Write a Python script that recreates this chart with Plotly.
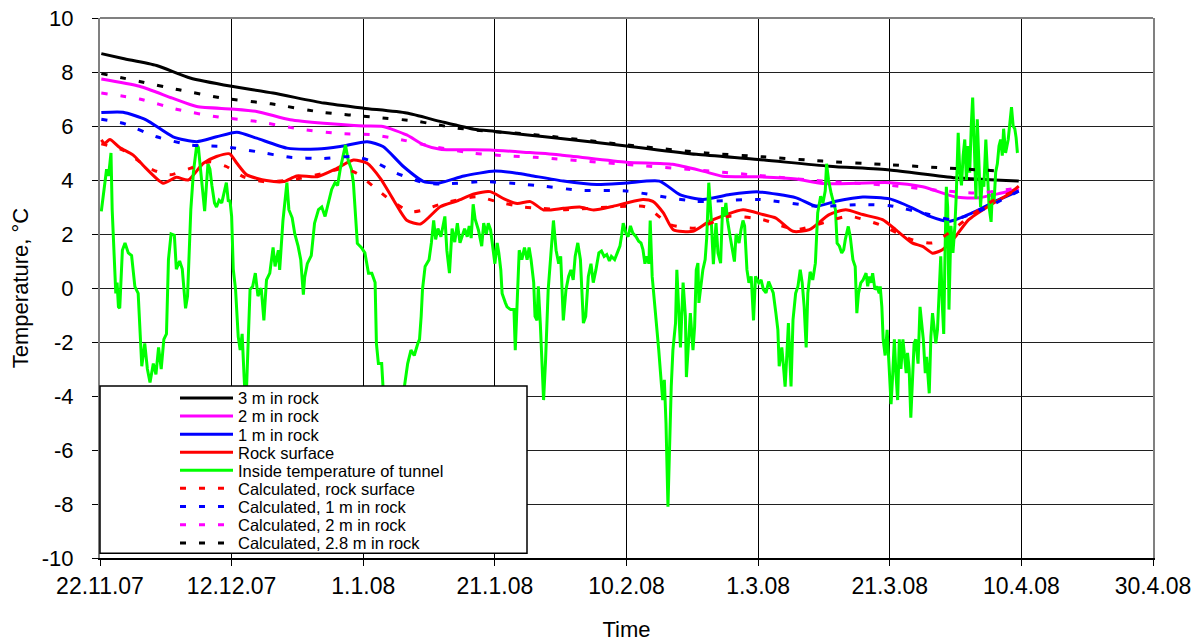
import numpy as np
import pandas as pd
import plotly.graph_objects as go

START = pd.Timestamp("2007-11-22")

# ---- data (days since 22.11.07, temperature in deg C) ----
rock3_days = [0.2, 3.5, 8.6, 13.7, 20, 26.3, 34, 40, 46.6, 51.7, 56.8, 60, 65, 70, 80, 90.6, 100, 110.8, 120, 130, 139.6]
rock3_temp = [8.68, 8.5, 8.24, 7.78, 7.47, 7.22, 6.85, 6.66, 6.48, 6.17, 5.88, 5.8, 5.67, 5.54, 5.26, 4.95, 4.76, 4.51, 4.37, 4.08, 3.96]

rock2_days = [0.2, 6, 11, 14.7, 20, 23.8, 28.9, 34, 40, 43, 46.6, 49.2, 51.7, 59.3, 65, 70, 80, 87, 91.6, 94.6, 100, 105.8, 109.8, 120, 125, 130, 133.5, 137, 139.6]
rock2_temp = [7.74, 7.47, 7.03, 6.72, 6.63, 6.54, 6.23, 6.1, 6.0, 5.98, 5.67, 5.3, 5.14, 5.11, 5.02, 4.93, 4.66, 4.58, 4.33, 4.14, 4.12, 4.04, 3.87, 3.9, 3.75, 3.37, 3.34, 3.52, 3.67]

rock1_days = [0.2, 3.5, 7, 11.1, 14.7, 17.7, 20.8, 23.8, 28.4, 33, 36.5, 40.6, 43, 46.1, 49.2, 51.7, 55.3, 60, 63.4, 65.4, 70.4, 75.5, 80, 85, 88.1, 91.6, 95.7, 100, 105.8, 108.8, 111.8, 115.9, 120, 123.4, 126, 129, 132.5, 136, 139.6]
rock1_temp = [6.5, 6.51, 6.23, 5.6, 5.42, 5.6, 5.77, 5.55, 5.18, 5.15, 5.24, 5.42, 5.24, 4.5, 3.94, 3.9, 4.15, 4.33, 4.25, 4.17, 3.96, 3.83, 3.89, 3.96, 3.46, 3.28, 3.46, 3.56, 3.34, 3.03, 3.21, 3.37, 3.3, 2.97, 2.66, 2.47, 2.78, 3.21, 3.59]

surf_days = [0.2, 0.7, 1.5, 3, 5, 7, 9.6, 11.6, 13.4, 15.7, 17.7, 19.7, 20.8, 22.3, 25.3, 27.9, 29.9, 33, 36, 38.5, 40.6, 42.6, 44.6, 46.6, 48.7, 51.7, 54.3, 56.8, 59.3, 61.4, 63.4, 65.4, 67.4, 70.4, 72.9, 75, 78, 80, 82.5, 84, 85.6, 87.1, 90.1, 92.6, 97.7, 100.7, 102.7, 105.3, 107.8, 110.8, 113.3, 115.9, 118.9, 120.9, 123.4, 125, 126.5, 128, 130, 132, 135, 138, 139.6]
surf_temp = [5.49, 5.36, 5.5, 5.2, 4.93, 4.43, 3.88, 4.1, 4.0, 4.62, 4.87, 4.97, 4.62, 4.19, 3.98, 3.94, 4.15, 4.12, 4.43, 4.74, 4.62, 4.06, 3.26, 2.51, 2.37, 3.01, 3.23, 3.48, 3.57, 3.3, 3.13, 3.2, 2.89, 2.95, 3.0, 2.89, 3.03, 3.15, 3.28, 3.21, 2.78, 2.16, 2.1, 2.47, 2.9, 2.72, 2.59, 2.1, 2.16, 2.72, 2.9, 2.72, 2.53, 2.16, 1.67, 1.54, 1.29, 1.42, 1.91, 2.53, 3.03, 3.46, 3.77]

tunnel_days = [0.2, 1.0, 1.3, 1.67, 1.85, 2.4, 2.6, 2.8, 3.0, 3.4, 3.8, 4.3, 4.8, 5.3, 5.8, 6.0, 6.2, 6.35, 6.8, 7.2, 7.6, 8.1, 8.5, 8.9, 9.3, 9.7, 10.1, 10.4, 10.8, 11.3, 11.6, 12.1, 12.5, 13.0, 13.3, 13.8, 14.2, 14.7, 14.95, 15.4, 15.9, 16.4, 16.7, 17.0, 17.4, 17.7, 18.1, 18.5, 18.9, 19.2, 19.5, 19.75, 20.0, 20.25, 20.6, 21.0, 21.3, 21.6, 21.9, 22.15, 22.8, 23.2, 23.6, 24.0, 24.5, 24.9, 25.3, 25.8, 26.3, 26.6, 27.1, 27.3, 27.8, 28.4, 28.7, 29.2, 29.6, 30.1, 30.5, 30.9, 31.1, 31.5, 32.1, 32.6, 33.2, 33.7, 34.2, 34.7, 35.2, 35.7, 36.1, 36.5, 37.0, 37.3, 37.7, 38.2, 38.5, 38.8, 39.1, 39.7, 40.25, 40.8, 41.3, 41.8, 42.0, 42.3, 42.8, 43.0, 43.5, 44.5, 45.5, 46.25, 46.75, 47.25, 47.75, 48.3, 48.55, 48.8, 49.0, 49.4, 50.0, 50.35, 50.7, 51.0, 51.35, 51.8, 52.1, 52.4, 52.7, 53.1, 53.5, 53.9, 54.3, 54.7, 55.0, 55.4, 55.8, 56.1, 56.4, 56.7, 57.0, 57.5, 58.0, 58.3, 58.7, 59.0, 59.35, 59.75, 60.0, 60.35, 60.6, 60.9, 61.1, 61.6, 61.85, 62.4, 62.9, 63.1, 63.4, 63.7, 64.1, 64.5, 64.9, 65.2, 65.5, 65.9, 66.1, 66.4, 66.6, 66.9, 67.4, 67.7, 68.1, 68.5, 68.9, 69.3, 69.7, 70.0, 70.4, 70.8, 71.2, 71.55, 71.9, 72.2, 72.6, 73.0, 73.45, 73.8, 74.2, 74.6, 74.95, 75.35, 75.8, 76.2, 76.6, 77.0, 77.4, 77.7, 78.2, 78.6, 79.0, 79.25, 79.5, 79.9, 80.25, 80.6, 80.95, 81.45, 81.85, 82.2, 82.5, 82.8, 83.1, 83.4, 83.6, 83.9, 84.3, 84.5, 84.9, 85.25, 85.5, 85.75, 86.0, 86.3, 86.55, 86.8, 87.05, 87.45, 87.65, 87.9, 88.2, 88.6, 88.95, 89.1, 89.4, 89.7, 90.1, 90.35, 90.6, 90.85, 91.0, 91.6, 91.95, 92.2, 92.5, 92.85, 93.2, 93.6, 93.9, 94.3, 94.6, 94.85, 95.1, 95.35, 95.75, 96.05, 96.4, 96.65, 97.1, 97.4, 97.7, 97.95, 98.3, 98.6, 98.95, 99.3, 99.6, 100.1, 100.45, 100.8, 101.2, 101.6, 101.95, 102.3, 102.7, 103.0, 103.2, 103.6, 103.85, 104.1, 104.35, 104.6, 105.0, 105.3, 105.7, 106.05, 106.4, 106.7, 107.0, 107.3, 107.55, 107.9, 108.3, 108.7, 109.05, 109.5, 109.85, 110.2, 110.4, 110.7, 111.1, 111.45, 111.75, 112.0, 112.35, 112.7, 113.0, 113.25, 113.7, 114.0, 114.4, 114.75, 115.0, 115.25, 115.6, 115.95, 116.4, 116.65, 116.9, 117.15, 117.4, 117.75, 118.05, 118.4, 118.55, 118.8, 119.0, 119.3, 119.6, 119.9, 120.2, 120.45, 120.7, 120.95, 121.2, 121.45, 121.7, 122.0, 122.25, 122.5, 122.7, 122.95, 123.2, 123.45, 123.7, 123.95, 124.3, 124.6, 124.85, 125.1, 125.4, 125.6, 126.0, 126.25, 126.5, 126.75, 127.0, 127.25, 127.5, 127.75, 128.0, 128.2, 128.4, 128.6, 128.8, 129.0, 129.3, 129.6, 129.9, 130.1, 130.4, 130.65, 130.9, 131.15, 131.4, 131.65, 131.9, 132.15, 132.4, 132.6, 132.85, 133.1, 133.3, 133.55, 133.8, 134.05, 134.3, 134.6, 134.85, 135.1, 135.4, 135.6, 135.85, 136.1, 136.35, 136.6, 136.85, 137.1, 137.3, 137.6, 138.0, 138.3, 138.5, 138.75, 139.0, 139.2, 139.4]
tunnel_temp = [2.84, 4.4, 4.15, 5.0, 2.9, -0.2, 0.2, -0.7, -0.75, 1.4, 1.67, 1.3, 1.2, 0.05, -0.2, -1.43, -2.05, -2.9, -2.05, -3.0, -3.5, -2.8, -3.2, -2.2, -3.0, -1.9, -1.7, 1.05, 2.0, 1.95, 0.7, 1.0, 0.7, -0.75, -0.3, 2.9, 4.3, 5.3, 5.2, 4.1, 2.85, 4.6, 4.4, 3.8, 3.15, 3.0, 3.25, 3.15, 3.65, 3.9, 3.2, 3.25, 2.65, 0.7, -0.06, -1.8, -2.3, -1.7, -3.3, -4.5, -0.06, 0.06, 0.55, -0.3, 0.0, -1.2, 0.3, 0.55, 1.5, 0.8, 1.4, 0.67, 2.5, 3.9, 2.9, 2.6, 2.0, 1.55, 1.05, -0.25, 0.4, 0.9, 1.2, 2.4, 2.9, 3.0, 2.65, 3.2, 3.65, 3.9, 3.8, 4.4, 4.9, 5.3, 4.75, 4.4, 3.9, 2.65, 1.65, 1.5, 1.3, 0.55, 0.55, 0.2, -2.05, -2.8, -2.8, -3.65, -4.6, -5.0, -4.7, -3.66, -2.8, -2.3, -2.5, -2.05, -1.9, -1.05, -0.06, 0.8, 1.05, 1.67, 2.5, 1.8, 2.2, 1.9, 2.35, 2.65, 1.4, 0.55, 2.2, 1.7, 2.4, 1.67, 1.9, 2.2, 1.9, 2.3, 1.85, 3.1, 2.55, 2.15, 1.55, 2.4, 2.0, 2.4, 2.15, 1.4, 0.9, 1.67, 1.3, 0.67, -0.2, -0.55, -0.7, -0.8, -0.8, -2.3, -0.3, 1.4, 1.05, 1.5, 1.05, 1.5, 1.05, 0.2, -1.05, -1.2, 0.06, -1.3, -4.15, -2.7, -0.07, 1.4, 2.5, 1.4, 0.9, 1.17, -1.2, -0.07, 0.43, 0.67, 0.3, 1.17, 1.67, 1.05, -1.3, -1.05, 0.43, 0.9, 0.2, 0.67, 1.3, 1.37, 1.17, 1.24, 1.0, 1.17, 1.05, 1.3, 1.55, 1.93, 2.4, 2.04, 1.9, 2.3, 2.04, 1.9, 1.73, 1.67, 1.42, 0.9, 1.17, 0.9, 2.5, 0.43, -0.55, -1.05, -2.3, -3.4, -4.15, -3.4, -5.0, -8.1, -5.3, -3.65, -2.3, -1.3, 0.67, -0.8, -2.2, 0.2, -1.05, -3.3, -2.05, -0.93, -2.3, -1.43, 0.67, 0.92, -0.55, 0.67, 1.05, 1.9, 3.9, 2.65, 0.88, 2.4, 1.3, 0.92, 3.0, 2.65, 3.15, 2.5, 1.9, 1.4, 0.98, 2.0, 1.67, 2.16, 2.5, 2.3, 0.68, 0.19, 0.43, -1.2, 0.43, 0.19, 0.3, -0.06, -0.18, 0.24, 0.06, -0.18, -0.93, -1.55, -2.9, -2.2, -2.9, -3.65, -2.55, -1.3, -3.65, -1.18, -0.2, 0.06, 0.68, 0.19, -0.7, -2.2, -0.2, 0.6, 0.3, 0.92, 2.78, 3.4, 3.15, 3.6, 4.6, 4.0, 3.5, 3.15, 2.9, 1.66, 1.55, 1.3, 1.42, 1.8, 2.28, 1.9, 1.05, 0.8, -0.93, -0.2, 0.19, 0.3, 0.55, 0.06, 0.43, 0.19, 0.55, -0.06, 0.06, -0.2, 0.06, -0.7, -1.9, -2.5, -1.55, -2.9, -4.3, -3.2, -1.9, -3.2, -4.15, -1.9, -3.0, -1.9, -2.55, -3.15, -2.4, -3.0, -4.8, -3.4, -2.05, -1.9, -2.8, -0.7, -1.3, -1.9, -3.15, -2.55, -3.9, -1.8, -0.93, -1.55, -2.05, -1.55, -0.2, 1.17, -0.7, -1.7, 1.3, 3.75, 3.0, -0.8, 2.3, 1.3, 2.3, 3.4, 5.75, 4.27, 3.8, 4.9, 5.5, 4.0, 5.26, 4.27, 6.1, 7.05, 5.26, 3.3, 6.25, 4.27, 3.0, 4.0, 3.75, 5.5, 4.0, 3.0, 2.45, 3.6, 3.2, 4.3, 4.6, 5.26, 5.5, 4.9, 5.9, 5.0, 5.5, 6.1, 6.7, 6.0, 5.9, 5.57, 5.0]

calc_surf_days = [0.2, 3.5, 6, 8.1, 10.6, 13.7, 16.7, 19.2, 21.8, 24.8, 28.9, 34, 37, 39, 41.6, 44.1, 47.2, 49.2, 52, 57.3, 60.3, 64, 67, 70.4, 80, 83, 86.6, 90.6, 95.7, 100.7, 105.8, 109.8, 113.8, 118.4, 123.4, 126.5, 129, 132.5, 136, 139.6]
calc_surf_temp = [5.34, 5.11, 4.68, 4.37, 4.19, 4.43, 4.68, 4.5, 4.12, 3.94, 4.0, 4.25, 4.43, 4.25, 3.75, 3.26, 2.82, 2.89, 3.13, 3.38, 3.2, 3.01, 2.95, 2.9, 3.03, 3.0, 2.35, 2.22, 2.66, 2.53, 2.16, 2.41, 2.66, 2.35, 1.79, 1.67, 2.04, 2.72, 3.28, 3.65]

calc1_days = [0.2, 3.5, 8.6, 13.7, 18.7, 23.8, 28.9, 34, 38.5, 41.6, 45.1, 49.2, 52, 58.3, 64, 67, 72.9, 80, 90.6, 100, 108.8, 115.9, 120, 126, 129.5, 133.5, 139.6]
calc1_temp = [6.25, 6.1, 5.6, 5.3, 5.24, 5.05, 4.84, 4.8, 4.87, 4.68, 4.25, 3.9, 3.85, 3.94, 3.85, 3.78, 3.62, 3.59, 3.21, 3.28, 3.03, 3.09, 3.05, 2.72, 2.53, 2.84, 3.59]

calc2_days = [0.2, 6, 12, 18, 23.8, 30, 36, 41.6, 44.6, 50.7, 56.8, 62, 66, 80, 94.6, 100, 109.8, 120, 128.5, 133.5, 139.6]
calc2_temp = [7.22, 7.0, 6.6, 6.33, 6.17, 5.9, 5.73, 5.67, 5.55, 5.24, 4.99, 4.89, 4.84, 4.58, 4.29, 4.17, 3.96, 3.8, 3.59, 3.52, 3.71]

calc28_days = [0.2, 6, 12, 18.7, 26, 34, 41.6, 47.7, 50.7, 54.3, 59.4, 66, 80, 92, 100.7, 109.8, 118.9, 128, 137]
calc28_temp = [7.94, 7.65, 7.34, 7.03, 6.82, 6.5, 6.33, 6.19, 6.07, 5.92, 5.8, 5.68, 5.3, 5.0, 4.86, 4.7, 4.58, 4.45, 4.33]

x_tick_dates = ["2007-11-22", "2007-12-12", "2008-01-01", "2008-01-21", "2008-02-10",
                "2008-03-01", "2008-03-21", "2008-04-10", "2008-04-30"]
x_tick_labels = ["22.11.07", "12.12.07", "1.1.08", "21.1.08", "10.2.08",
                 "1.3.08", "21.3.08", "10.4.08", "30.4.08"]
y_ticks = [-10, -8, -6, -4, -2, 0, 2, 4, 6, 8, 10]
y_tick_labels = ["-10", "-8", "-6", "-4", "-2", "0", "2", "4", "6", "8", "10"]


def to_dates(days):
    return START + pd.to_timedelta(np.asarray(days, dtype=float), unit="D")


DASH = "6px,13px"
series = [
    ("3 m in rock", rock3_days, rock3_temp, "#000000", "solid"),
    ("2 m in rock", rock2_days, rock2_temp, "#FF00FF", "solid"),
    ("1 m in rock", rock1_days, rock1_temp, "#0000FF", "solid"),
    ("Rock surface", surf_days, surf_temp, "#FF0000", "solid"),
    ("Inside temperature of tunnel", tunnel_days, tunnel_temp, "#00FF00", "solid"),
    ("Calculated, rock surface", calc_surf_days, calc_surf_temp, "#FF0000", DASH),
    ("Calculated, 1 m in rock", calc1_days, calc1_temp, "#0000FF", DASH),
    ("Calculated, 2 m in rock", calc2_days, calc2_temp, "#FF00FF", DASH),
    ("Calculated, 2.8 m in rock", calc28_days, calc28_temp, "#000000", DASH),
]

FONT = "Liberation Sans, Arial, sans-serif"

# Geometry in page pixels (body margin removed below, so page == figure pixels).
W, H = 1202, 642
PL, PR, PT, PB = 100, 1153, 18, 558
row_y = [398.3, 416.3, 434.5, 452.5, 470.5, 488.6, 506.8, 525.0, 543.2]
legend_left = 175
box_right, box_top, box_bottom = 527, 386, 553.3


def px_x(p):
    return (p - PL) / (PR - PL)


def px_y(p):
    return (PB - p) / (PB - PT)


fig = go.Figure()
layout_legends = {}
for i, (name, d, t, col, dash) in enumerate(series):
    lg = "legend" if i == 0 else f"legend{i + 1}"
    smooth = not name.startswith("Inside")
    fig.add_trace(go.Scatter(
        x=to_dates(d), y=t, mode="lines", name=name,
        line=dict(color=col, width=3, dash=dash,
                  shape="spline" if smooth else "linear", smoothing=0.6),
        legend=lg,
    ))
    layout_legends[lg] = dict(
        x=px_x(legend_left), xanchor="left",
        y=px_y(row_y[i]), yanchor="middle",
        bgcolor="rgba(0,0,0,0)", borderwidth=0,
        font=dict(family=FONT, size=16.5, color="#000000"),
        itemwidth=53, tracegroupgap=0,
    )

fig.update_layout(
    width=W, height=H,
    margin=dict(l=PL, r=W - PR, t=PT, b=H - PB, autoexpand=False),
    paper_bgcolor="white", plot_bgcolor="white",
    showlegend=True,
    font=dict(family=FONT, color="#000000"),
    **layout_legends,
)

fig.update_xaxes(
    type="date", automargin=False,
    range=["2007-11-22", "2008-04-30"],
    tickmode="array", tickvals=x_tick_dates, ticktext=x_tick_labels,
    tickfont=dict(family=FONT, size=23, color="#000000"),
    ticks="outside", ticklen=6, tickcolor="#000000", tickwidth=1,
    ticklabeloverflow="allow",
    showgrid=True, gridcolor="#000000", gridwidth=1,
    showline=True, linecolor="#000000", linewidth=2, mirror=False,
    zeroline=False,
    title=dict(text="Time", font=dict(family=FONT, size=22, color="#000000"), standoff=24),
)
fig.update_yaxes(
    automargin=False,
    range=[-10, 10],
    tickmode="array", tickvals=y_ticks, ticktext=y_tick_labels,
    tickfont=dict(family=FONT, size=22, color="#000000"),
    ticks="outside", ticklen=6, tickcolor="#000000", tickwidth=1,
    ticklabelstandoff=14, ticklabeloverflow="allow",
    showgrid=True, gridcolor="#202020", gridwidth=1,
    showline=True, linecolor="#808080", linewidth=2, mirror=True,
    zeroline=False,
    title=dict(text="Temperature, °C", font=dict(family=FONT, size=22, color="#000000"), standoff=7),
)

# plot frame top edge (gray) and legend box
fig.add_shape(type="line", xref="paper", yref="paper", x0=0, x1=1, y0=1, y1=1,
              line=dict(color="#808080", width=2), layer="above")
fig.add_shape(type="rect", xref="paper", yref="paper",
              x0=0, x1=px_x(box_right),
              y0=px_y(box_bottom), y1=px_y(box_top),
              line=dict(color="#000000", width=1.5), fillcolor="white", layer="above")

fig.write_html("out.html", config={"displayModeBar": False},
               post_script="document.body.style.margin='0';")
